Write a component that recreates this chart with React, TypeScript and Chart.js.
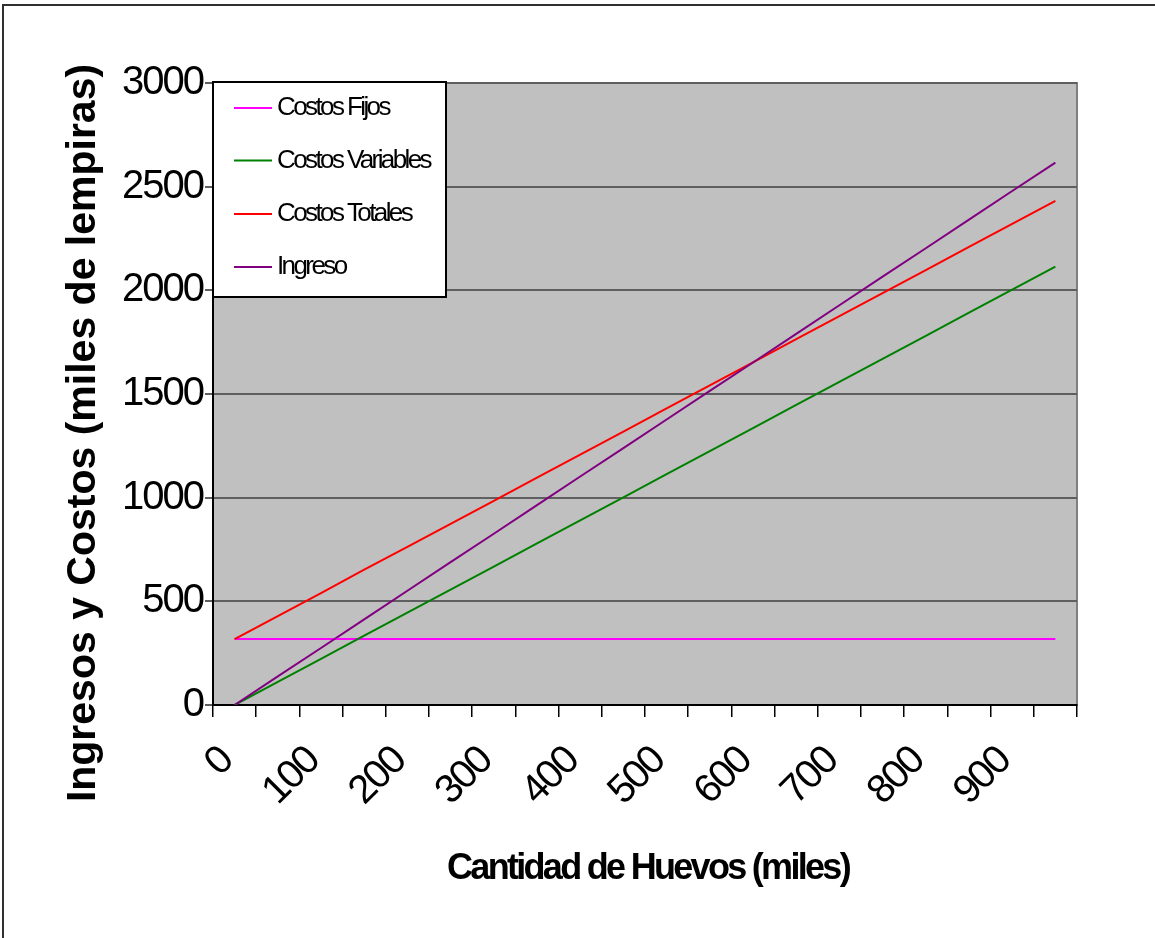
import React, { useEffect, useRef } from 'react';
import { Chart, registerables } from 'chart.js';

Chart.register(...registerables);

// Quantity of eggs (thousands) – one category every 50
const cantidades = ['0', '50', '100', '150', '200', '250', '300', '350', '400', '450', '500', '550', '600', '650', '700', '750', '800', '850', '900', '950'];
const costosFijos = [318, 318, 318, 318, 318, 318, 318, 318, 318, 318, 318, 318, 318, 318, 318, 318, 318, 318, 318, 318];
const costosVariables = [0, 111, 222, 335, 445, 556, 667, 779, 890, 1001, 1113, 1224, 1335, 1447, 1558, 1669, 1780, 1892, 2003, 2114];
const costosTotales = [318, 429, 540, 653, 763, 874, 985, 1097, 1208, 1319, 1431, 1542, 1653, 1765, 1876, 1987, 2098, 2210, 2321, 2432];
const ingreso = [0, 138, 275, 413, 551, 689, 826, 964, 1102, 1239, 1377, 1515, 1652, 1790, 1928, 2066, 2203, 2341, 2479, 2616];
const yTicks = [0, 500, 1000, 1500, 2000, 2500, 3000];

const seriesNames = ['Costos Fijos', 'Costos Variables', 'Costos Totales', 'Ingreso'];
const seriesColors = ['#FF00FF', '#008000', '#FF0000', '#800080'];

const yTitle = 'Ingresos y Costos (miles de lempiras)';
const xTitle = 'Cantidad de Huevos (miles)';

const FONT = '"Liberation Sans", Arial, Helvetica, sans-serif';

export default function App() {
  const ref = useRef<HTMLCanvasElement>(null);

  useEffect(() => {
    const canvas = ref.current;
    if (!canvas) return;

    const pagePlugin = {
      id: 'pagePlugin',
      beforeDraw(chart: any) {
        const { ctx, chartArea: a } = chart;
        ctx.save();
        ctx.fillStyle = '#ffffff';
        ctx.fillRect(0, 0, chart.width, chart.height);
        // outer frame
        ctx.strokeStyle = '#303030';
        ctx.lineWidth = 2;
        ctx.beginPath();
        ctx.moveTo(3, chart.height + 10);
        ctx.lineTo(3, 5);
        ctx.lineTo(chart.width + 10, 5);
        ctx.stroke();
        // plot area
        ctx.fillStyle = '#C0C0C0';
        ctx.fillRect(a.left, a.top, a.right - a.left, a.bottom - a.top);
        ctx.strokeStyle = '#808080';
        ctx.lineWidth = 2;
        ctx.strokeRect(a.left, a.top, a.right - a.left, a.bottom - a.top);
        ctx.restore();
        (ctx as any).letterSpacing = '-2px';
      },
      afterDraw(chart: any) {
        const { ctx } = chart;
        ctx.save();
        // legend box
        const bx = 213, by = 82, bw = 233, bh = 215;
        ctx.fillStyle = '#ffffff';
        ctx.fillRect(bx, by, bw, bh);
        ctx.strokeStyle = '#000000';
        ctx.lineWidth = 2;
        ctx.strokeRect(bx, by, bw, bh);
        const rows = [108, 160.5, 214, 267];
        chart.data.datasets.forEach((ds: any, i: number) => {
          const y = rows[i];
          ctx.strokeStyle = ds.borderColor;
          ctx.lineWidth = 2;
          ctx.beginPath();
          ctx.moveTo(234, y);
          ctx.lineTo(272, y);
          ctx.stroke();
          (ctx as any).letterSpacing = '-2.6px';
          ctx.font = `26px ${FONT}`;
          ctx.fillStyle = '#000000';
          ctx.textAlign = 'left';
          ctx.textBaseline = 'alphabetic';
          ctx.fillText(ds.label, 277, y + 7);
        });
        // y title
        (ctx as any).letterSpacing = '0px';
        ctx.font = `bold 41px ${FONT}`;
        ctx.fillStyle = '#000000';
        ctx.textAlign = 'center';
        ctx.textBaseline = 'alphabetic';
        ctx.save();
        ctx.translate(95, 433);
        ctx.rotate(-Math.PI / 2);
        ctx.fillText(yTitle, 0, 0);
        ctx.restore();
        // x title
        (ctx as any).letterSpacing = '-2.7px';
        ctx.font = `bold 36px ${FONT}`;
        ctx.fillText(xTitle, 648, 879);
        ctx.restore();
        (ctx as any).letterSpacing = '0px';
      },
    };

    const chart = new Chart(canvas, {
      type: 'line',
      data: {
        labels: cantidades,
        datasets: [
          { label: seriesNames[0], data: costosFijos, borderColor: seriesColors[0] },
          { label: seriesNames[1], data: costosVariables, borderColor: seriesColors[1] },
          { label: seriesNames[2], data: costosTotales, borderColor: seriesColors[2] },
          { label: seriesNames[3], data: ingreso, borderColor: seriesColors[3] },
        ].map((d, i) => ({
          ...d,
          borderWidth: 2,
          pointRadius: 0,
          pointHoverRadius: 0,
          fill: false,
          tension: 0,
          order: 4 - i,
        })),
      },
      options: {
        responsive: false,
        animation: false,
        events: [],
        layout: { padding: { left: 0, right: 78, top: 83, bottom: 0 } },
        plugins: {
          legend: { display: false },
          tooltip: { enabled: false },
          title: { display: false },
        },
        scales: {
          x: {
            type: 'category',
            offset: true,
            grid: {
              display: true,
              drawOnChartArea: false,
              drawTicks: true,
              tickLength: 12,
              offset: true,
              color: '#000000',
              lineWidth: 1.5,
            },
            border: { display: true, color: '#000000', width: 2 },
            ticks: {
              autoSkip: false,
              maxRotation: 45,
              minRotation: 45,
              padding: 21,
              labelOffset: -8,
              color: '#000000',
              font: { family: FONT, size: 40 },
              callback: (_v: any, idx: number) => (idx % 2 === 0 ? cantidades[idx] : ''),
            },
            afterFit: (s: any) => {
              s.height = 233;
            },
          },
          y: {
            min: yTicks[0],
            max: yTicks[yTicks.length - 1],
            grid: {
              color: '#5f5f5f',
              lineWidth: 2,
              tickLength: 8,
            },
            border: { display: true, color: '#000000', width: 2 },
            ticks: {
              stepSize: 500,
              padding: 2,
              color: '#000000',
              font: { family: FONT, size: 40 },
              callback: (v: any) => String(v),
            },
            afterFit: (s: any) => {
              s.width = 213;
            },
          },
        },
      },
      plugins: [pagePlugin],
    });

    return () => {
      chart.destroy();
    };
  }, []);

  return (
    <canvas
      ref={ref}
      width={1155}
      height={938}
      style={{ position: 'fixed', left: 0, top: 0, width: 1155, height: 938, display: 'block' }}
    />
  );
}
